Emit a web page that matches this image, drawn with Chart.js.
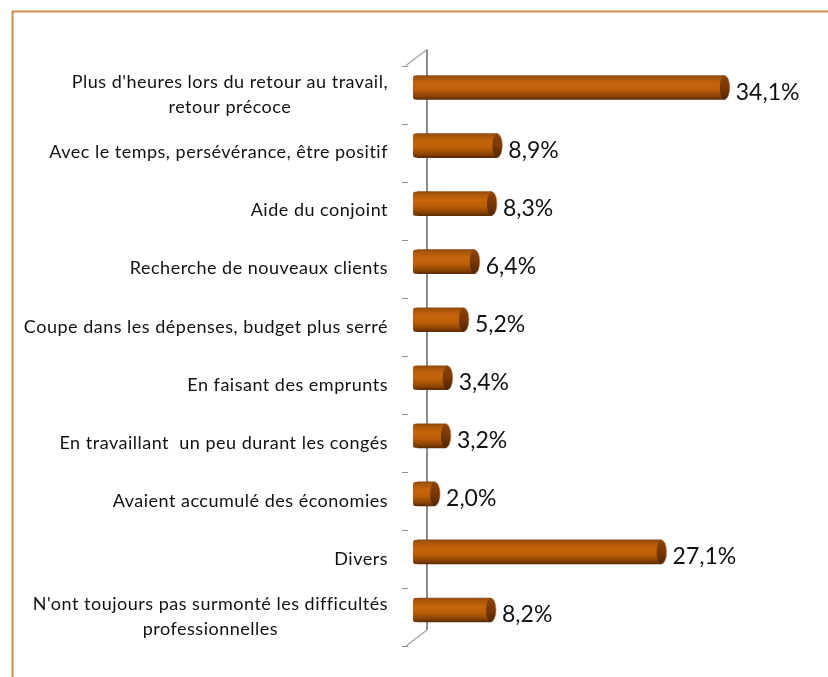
<!DOCTYPE html>
<html><head><meta charset="utf-8">
<script src="https://cdn.jsdelivr.net/npm/chart.js@4"></script>
<style>html,body{margin:0;padding:0;background:#fff;} canvas{display:block;}</style>
</head><body>
<canvas id="c" width="828" height="677"></canvas>
<script>
const categories = [
  ["Plus d'heures lors du retour au travail,", "retour précoce"],
  ["Avec le temps, persévérance, être positif"],
  ["Aide du conjoint"],
  ["Recherche de nouveaux clients"],
  ["Coupe dans les dépenses, budget plus serré"],
  ["En faisant des emprunts"],
  ["En travaillant  un peu durant les congés"],
  ["Avaient accumulé des économies"],
  ["Divers"],
  ["N'ont toujours pas surmonté les difficultés", "professionnelles"]
];
const values = [34.1, 8.9, 8.3, 6.4, 5.2, 3.4, 3.2, 2.0, 27.1, 8.2];
const xMax = 40;

const LABEL_FONT = '18px Lato';
const VALUE_FONT = '23px Lato';

function bodyGradient(c, top, bottom) {
  const g = c.createLinearGradient(0, top, 0, bottom);
  g.addColorStop(0, '#8c4a12');
  g.addColorStop(0.1, '#a9560a');
  g.addColorStop(0.35, '#c6660b');
  g.addColorStop(0.6, '#bb5e09');
  g.addColorStop(0.85, '#8e4505');
  g.addColorStop(1, '#5c2c03');
  return g;
}

const deco = {
  id: 'deco',
  beforeDraw(chart) {
    const c = chart.ctx;
    c.save();
    c.strokeStyle = '#cf8c4c';
    c.lineWidth = 2;
    c.beginPath();
    c.moveTo(12.5, 700); c.lineTo(12.5, 11.5); c.lineTo(850, 11.5);
    c.stroke();
    c.restore();
  },
  beforeDatasetsDraw(chart) {
    const c = chart.ctx;
    const xs = chart.scales.x;
    const {top, bottom} = chart.chartArea;
    const n = categories.length;
    const step = (bottom - top) / n;
    const x0 = xs.getPixelForValue(0);
    const frontX = x0 - 9, backX = x0 + 10;
    const off = 7, dy = 16;
    c.save();
    c.strokeStyle = '#8c8c8c';
    c.lineWidth = 2;
    c.beginPath();
    c.moveTo(backX, top + off - dy);
    c.lineTo(backX, bottom + off - dy);
    c.stroke();
    c.strokeStyle = '#a6a6a6';
    c.lineWidth = 1.5;
    c.beginPath();
    c.moveTo(backX, top + off - dy); c.lineTo(frontX - 2, top + off);
    c.moveTo(backX, bottom + off - dy); c.lineTo(frontX - 2, bottom + off);
    c.stroke();
    c.strokeStyle = '#8c8c8c';
    c.lineWidth = 1;
    c.beginPath();
    for (let k = 0; k <= n; k++) {
      const y = Math.round(top + off + k * step) + 0.5;
      c.moveTo(frontX - 6, y); c.lineTo(frontX, y);
    }
    c.stroke();
    c.restore();
  },
  afterDatasetsDraw(chart) {
    const c = chart.ctx;
    const meta = chart.getDatasetMeta(0);
    c.save();
    meta.data.forEach((el, i) => {
      const h = el.height;
      const t = el.y - h / 2, b = el.y + h / 2;
      c.fillStyle = bodyGradient(c, t, b);
      c.beginPath();
      c.moveTo(el.base + 1, t);
      c.lineTo(el.base - 2, t);
      c.quadraticCurveTo(el.base - 4, t, el.base - 4, t + 3);
      c.lineTo(el.base - 4, b - 3);
      c.quadraticCurveTo(el.base - 4, b, el.base - 2, b);
      c.lineTo(el.base + 1, b);
      c.closePath();
      c.fill();
      const g = c.createLinearGradient(0, t, 0, b);
      g.addColorStop(0, '#8a4208');
      g.addColorStop(0.5, '#7a3806');
      g.addColorStop(1, '#4e2402');
      c.fillStyle = g;
      c.beginPath();
      c.ellipse(el.x, el.y, 5, h / 2, 0, 0, Math.PI * 2);
      c.fill();
      c.strokeStyle = 'rgba(200,120,60,0.6)';
      c.lineWidth = 1;
      c.beginPath();
      c.ellipse(el.x, el.y, 5, h / 2 - 0.5, 0, -Math.PI / 2, Math.PI / 2);
      c.stroke();
      c.fillStyle = '#111';
      c.font = VALUE_FONT;
      c.textBaseline = 'middle';
      c.textAlign = 'left';
      c.fillText(values[i].toFixed(1).replace('.', ',') + '%', el.x + 11, el.y + 5);
    });
    c.restore();
  },
  afterDraw(chart) {
    const c = chart.ctx;
    const ys = chart.scales.y;
    const right = 388, lh = 25;
    c.save();
    c.font = LABEL_FONT;
    c.letterSpacing = '0.5px';
    c.fillStyle = '#111';
    c.textBaseline = 'middle';
    c.textAlign = 'center';
    categories.forEach((lines, i) => {
      const yc = ys.getPixelForValue(i) + 7;
      const w = Math.max(...lines.map(l => c.measureText(l).width));
      const cx = right - w / 2;
      lines.forEach((l, j) => {
        c.fillText(l, cx, yc + (j - (lines.length - 1) / 2) * lh);
      });
    });
    c.restore();
  }
};

new Chart(document.getElementById('c'), {
  type: 'bar',
  data: {
    labels: categories,
    datasets: [{
      data: values,
      barThickness: 24,
      borderWidth: 0,
      backgroundColor: (ctx) => {
        const chart = ctx.chart;
        if (!chart.chartArea || !chart.scales.y) return '#c0600a';
        const yc = chart.scales.y.getPixelForValue(ctx.dataIndex);
        return bodyGradient(chart.ctx, yc - 12, yc + 12);
      }
    }]
  },
  options: {
    indexAxis: 'y',
    responsive: false,
    animation: false,
    events: [],
    layout: { padding: { left: 0, right: 50, top: 58.5, bottom: 38 } },
    plugins: { legend: { display: false }, tooltip: { enabled: false } },
    scales: {
      x: { display: false, min: 0, max: xMax },
      y: {
        display: true,
        ticks: { display: false },
        grid: { display: false },
        border: { display: false },
        afterFit(s) { s.width = 417; }
      }
    }
  },
  plugins: [deco]
});
</script>
</body></html>
